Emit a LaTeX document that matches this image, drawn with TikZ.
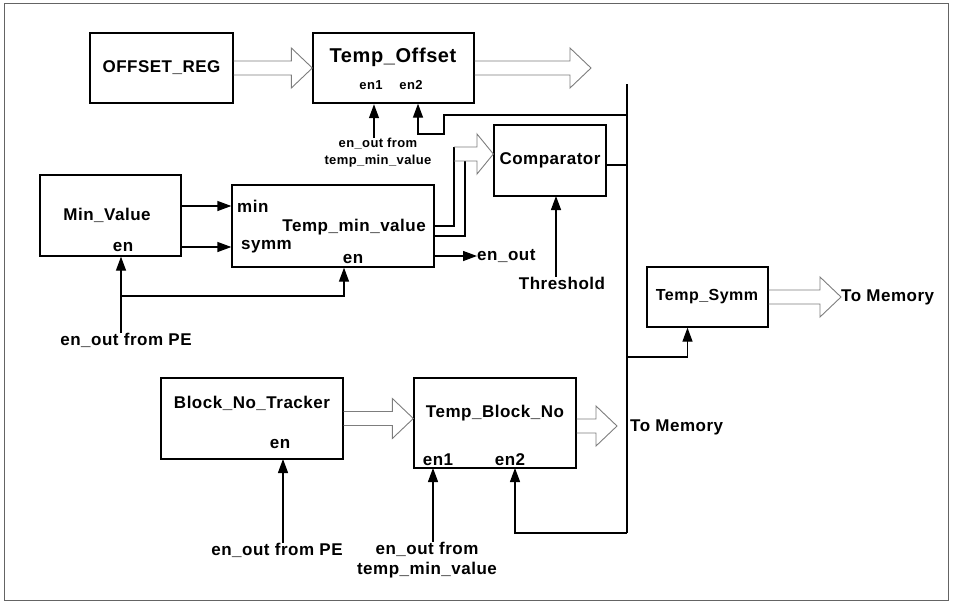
\documentclass[tikz,border=0pt]{standalone}
\usepackage{fontspec}
\setmainfont{Liberation Sans}[LetterSpace=3]
\usetikzlibrary{arrows.meta, calc, positioning}
\definecolor{fatgray}{RGB}{125,125,125}
\definecolor{framegray}{RGB}{100,100,100}

% hollow bus arrow between two points (horizontal)
\newcommand{\fatarrow}[2]{%
  \draw[fat] let \p1=(#1), \p2=(#2) in
    (\x1,\y1+7pt) -- (\x2-21pt,\y1+7pt) -- (\x2-21pt,\y1+20pt) -- (\x2,\y1)
    -- (\x2-21pt,\y1-20pt) -- (\x2-21pt,\y1-7pt) -- (\x1,\y1-7pt);}

\begin{document}
\begin{tikzpicture}[
  x=1pt, y=-1pt,
  blk/.style={rectangle, draw, line width=1.3pt, inner sep=0pt},
  lbl/.style={inner sep=0pt, font=\fontsize{17}{20}\selectfont\bfseries},
  tiny/.style={inner sep=0pt, font=\fontsize{13}{17}\selectfont\bfseries, align=center},
  wire/.style={line width=1.3pt},
  sig/.style={wire, -{Triangle[length=14pt, width=10pt]}},
  fat/.style={draw=fatgray, line width=0.9pt}
]
  \useasboundingbox (0,0) rectangle (953,603);
  \draw[framegray, line width=1pt] (4,3) rectangle (948,600);

  % offset path
  \node[blk, lbl, minimum width=143, minimum height=70] (offreg) at (161.5,68) {OFFSET\_REG};
  \node[blk, minimum width=161, minimum height=70] (toff) at (393.5,68) {};
  \node[lbl, font=\fontsize{20}{22}\selectfont\bfseries] (toffttl) at (393,57) {Temp\_Offset};
  \node[tiny] (toffen1) at (371,85) {en1};
  \node[tiny] (toffen2) at (411,85) {en2};
  \node[tiny] (tofffrom) at (378,153) {en\_out from\\temp\_min\_value};
  \coordinate (toffout) at (591,68);
  \fatarrow{offreg.east}{toff.west}
  \fatarrow{toff.east}{toffout}
  \draw[sig] (tofffrom.north -| toffen1) ++(3,0) -- ++(0,-34);

  % bus
  \coordinate (bustop) at (627,84);
  \coordinate (busbot) at (627,533);
  \draw[wire] (bustop) -- (busbot);
  \draw[sig] ($(bustop)+(0,31)$) -| ++(-183,19) -| ($(toffen2 |- toff.south)+(7,0)$);

  % min value path
  \node[blk, minimum width=141, minimum height=81] (minval) at (110.5,215.5) {};
  \node[lbl] (minttl) at (107,215) {Min\_Value};
  \node[lbl] (minen) at (123,247) {en};
  \node[blk, minimum width=202, minimum height=82] (tmin) at (333,226) {};
  \node[lbl, anchor=west] (tminmin) at (237,206) {min};
  \node[lbl, anchor=west] (tminsymm) at (241,247) {symm};
  \node[lbl, anchor=east] (tminttl) at (426,227) {Temp\_min\_value};
  \node[lbl] (tminen) at (353,259) {en};
  \node[lbl, anchor=west] (enout) at (477,256) {en\_out};
  \node[lbl] (pe1) at (126,340) {en\_out from PE};
  \coordinate (split) at (121,296);
  \draw[sig] (minval.east |- tminmin) -- (tmin.west |- tminmin);
  \draw[sig] (minval.east |- tminsymm) -- (tmin.west |- tminsymm);
  \draw[sig] (pe1.north -| split) -- (split |- minval.south);
  \draw[sig] (split) -| ($(tmin.south)+(11,0)$);
  \draw[sig] (tmin.east |- enout) -- (enout.west);

  % comparator
  \node[blk, lbl, minimum width=112, minimum height=71] (comp) at (550,160.5) {Comparator};
  \node[lbl] (thr) at (562,283) {Threshold};
  \draw[sig] (thr.north -| 556,0) -- (556,196);
  \draw[wire] (comp.east |- 0,165) -- (bustop |- 0,165);
  \draw[wire] (tmin.east |- 0,226) -| (454,147);
  \draw[wire] (tmin.east |- 0,236) -| (465,161);
  \draw[fat] (454,147) -- (477,147) -- (477,134) -- (comp.west |- 0,154)
    -- (477,174) -- (477,161) -- (454,161);

  % symm path
  \node[blk, minimum width=121, minimum height=60] (tsymm) at (707.5,297) {};
  \node[lbl, font=\fontsize{16}{18}\selectfont\bfseries] (tsymmttl) at (707,297) {Temp\_Symm};
  \node[lbl, anchor=west] (mem1) at (841,297) {To Memory};
  \fatarrow{tsymm.east}{mem1.west}
  \draw[sig] (bustop |- 0,357) -| ($(tsymm.south)+(-20,0)$);

  % block number path
  \node[blk, minimum width=182, minimum height=81] (bnt) at (252,418.5) {};
  \node[lbl] (bntttl) at (252,403) {Block\_No\_Tracker};
  \node[lbl] (bnten) at (280,444) {en};
  \node[blk, minimum width=162, minimum height=90] (tbn) at (495,423) {};
  \node[lbl] (tbnttl) at (495,413) {Temp\_Block\_No};
  \node[lbl] (tbnen1) at (438,460) {en1};
  \node[lbl] (tbnen2) at (510,460) {en2};
  \node[lbl, anchor=west] (mem2) at (630,427) {To Memory};
  \coordinate (tbnout) at (617,426);
  \node[lbl] (pe2) at (277,550) {en\_out from PE};
  \node[lbl, align=center] (tbnfrom) at (427,560) {en\_out from\\temp\_min\_value};
  \fatarrow{bnt.east}{tbn.west}
  \fatarrow{tbn.east |- tbnout}{tbnout}
  \draw[sig] (pe2.north -| 283,0) -- (283,459);
  \draw[sig] (tbnfrom.north -| 433,0) -- (433,468);
  \draw[sig] (busbot) -| (515,468);
\end{tikzpicture}
\end{document}
